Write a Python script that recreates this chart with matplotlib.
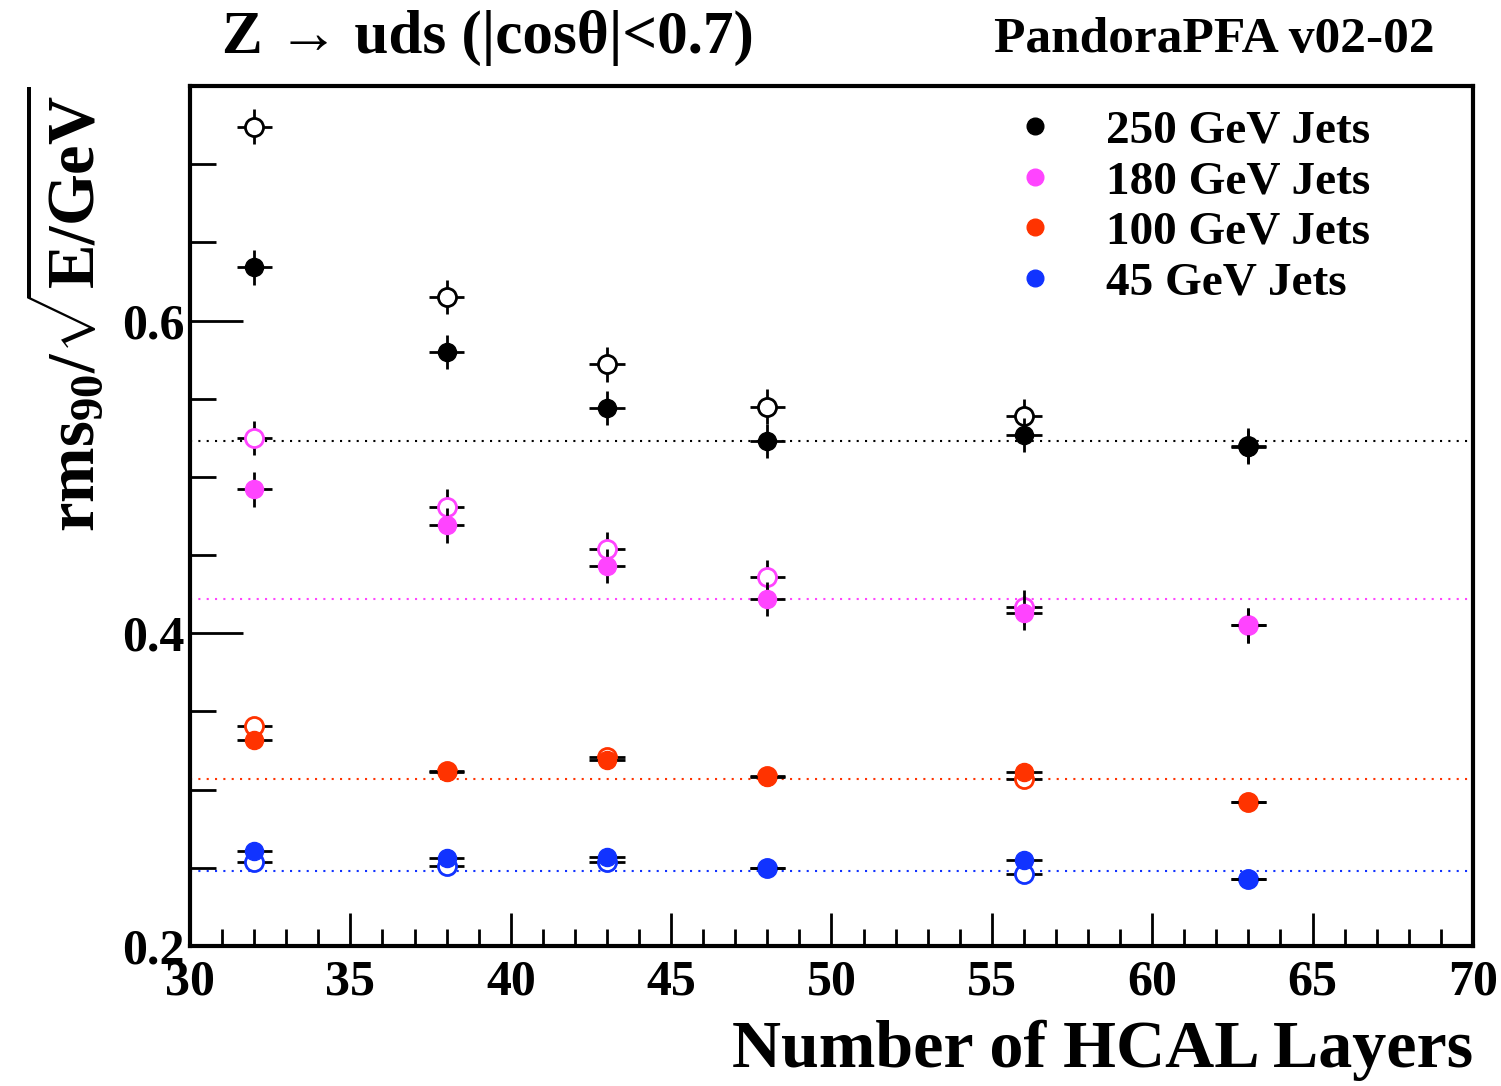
import matplotlib
matplotlib.use("Agg")
import matplotlib.pyplot as plt
from matplotlib.ticker import MultipleLocator

plt.rcParams['font.family'] = ['Liberation Serif', 'DejaVu Serif']
plt.rcParams['font.weight'] = 'bold'
plt.rcParams['axes.labelweight'] = 'bold'
plt.rcParams['mathtext.fontset'] = 'custom'
plt.rcParams['mathtext.rm'] = 'Liberation Serif:bold'
plt.rcParams['mathtext.it'] = 'Liberation Serif:bold'
plt.rcParams['mathtext.bf'] = 'Liberation Serif:bold'

# number of HCAL layers
layers = [32, 38, 43, 48, 56, 63]

# filled points
res_250 = [0.634, 0.580, 0.544, 0.523, 0.527, 0.519]
res_180 = [0.492, 0.469, 0.443, 0.422, 0.413, 0.405]
res_100 = [0.332, 0.311, 0.319, 0.308, 0.311, 0.292]
res_45 = [0.261, 0.256, 0.257, 0.250, 0.255, 0.243]

# open points
open_250 = [0.724, 0.615, 0.572, 0.545, 0.539, 0.520]
open_180 = [0.525, 0.481, 0.454, 0.436, 0.417, 0.405]
open_100 = [0.341, 0.312, 0.321, 0.309, 0.307, 0.292]
open_45 = [0.254, 0.251, 0.254, 0.250, 0.246, 0.243]

# errors
xerr = 0.55
yerr_250 = 0.011
yerr_180 = 0.011
yerr_100 = 0.003
yerr_45 = 0.002

# reference lines
ref_vals = [0.523, 0.422, 0.307, 0.248]

labels = ["250 GeV Jets", "180 GeV Jets", "100 GeV Jets", "45 GeV Jets"]
colors = ["black", "#ff44ff", "#ff3300", "#1133ff"]

filled = [res_250, res_180, res_100, res_45]
opened = [open_250, open_180, open_100, open_45]
yerrs = [yerr_250, yerr_180, yerr_100, yerr_45]

fig = plt.figure(figsize=(15.01, 10.86), dpi=100)
ax = fig.add_axes([0.1266, 0.1289, 0.8547, 0.7919])

for i in range(4):
    ax.axhline(ref_vals[i], color=colors[i], ls=(0, (1, 3)), lw=1.5, zorder=1)
    ax.errorbar(layers, opened[i], xerr=xerr, yerr=yerrs[i], fmt='o', ms=13,
                mfc='white', mec=colors[i], mew=2, ecolor='black', elinewidth=2,
                capsize=0, zorder=3)
    ax.errorbar(layers, filled[i], xerr=xerr, yerr=yerrs[i], fmt='o', ms=13,
                mfc=colors[i], mec=colors[i], ecolor='black', elinewidth=2,
                capsize=0, zorder=4)

# legend
for i in range(4):
    ax.plot([], [], 'o', ms=12, color=colors[i], label=labels[i])
ax.legend(loc='upper right', bbox_to_anchor=(0.953, 1.022), frameon=False,
          fontsize=34, handletextpad=1.0, labelspacing=0.16, handlelength=1.0)

ax.set_xlim(30, 70)
ax.set_ylim(0.2, 0.75)
ax.xaxis.set_major_locator(MultipleLocator(5))
ax.xaxis.set_minor_locator(MultipleLocator(1))
ax.yaxis.set_major_locator(MultipleLocator(0.2))
ax.yaxis.set_minor_locator(MultipleLocator(0.05))
ax.tick_params(which='both', direction='in', top=False, right=False, width=2,
               labelsize=36)
ax.tick_params(axis='x', which='major', length=24, pad=10)
ax.tick_params(axis='x', which='minor', length=12)
ax.tick_params(axis='y', which='major', length=38, pad=4)
ax.tick_params(axis='y', which='minor', length=19)
ax.set_yticks([0.2, 0.4, 0.6])
ax.set_yticklabels(["0.2", "0.4", "0.6"])
for sp in ax.spines.values():
    sp.set_linewidth(3)

ax.set_xlabel("Number of HCAL Layers", fontsize=49, loc='right', labelpad=10)
ax.set_ylabel(r"rms$_{90}$/$\sqrt{E/GeV}$", fontsize=48, loc='top', labelpad=10)

fig.text(0.148, 0.965, "Z → uds (|cosθ|<0.7)", fontsize=44,
         ha='left', va='center')
fig.text(0.956, 0.963, "PandoraPFA v02-02", fontsize=37, ha='right',
         va='center')

fig.savefig("out.png", dpi=100)
